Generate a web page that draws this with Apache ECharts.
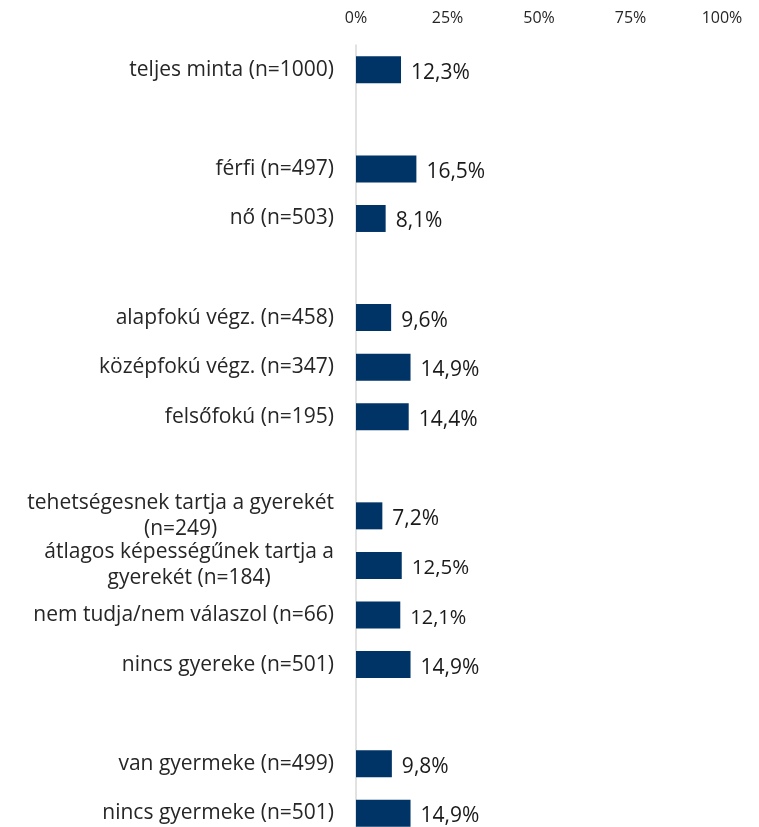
<!DOCTYPE html>
<html>
<head>
<meta charset="utf-8">
<script src="https://cdn.jsdelivr.net/npm/echarts@6/dist/echarts.min.js"></script>
<style>
html, body { margin: 0; padding: 0; background: #fff; }
#chart { width: 759px; height: 827px; }
</style>
</head>
<body>
<div id="chart"></div>
<script>
// empty strings are the gaps between groups
var categories = [
	'teljes minta (n=1000)',
	'',
	'férfi (n=497)',
	'nő (n=503)',
	'',
	'alapfokú végz. (n=458)',
	'középfokú végz. (n=347)',
	'felsőfokú (n=195)',
	'',
	'tehetségesnek tartja a gyerekét\n(n=249)',
	'átlagos képességűnek tartja a\ngyerekét (n=184)',
	'nem tudja/nem válaszol (n=66)',
	'nincs gyereke (n=501)',
	'',
	'van gyermeke (n=499)',
	'nincs gyermeke (n=501)',
]
var values = [12.3, null, 16.5, 8.1, null, 9.6, 14.9, 14.4, null, 7.2, 12.5, 12.1, 14.9, null, 9.8, 14.9]
var tickValues = [0, 25, 50, 75, 100]

// value label sizes differ a bit in the original
var labelSizes = [21, 0, 21, 21, 0, 21, 21, 21, 0, 21, 20.5, 20, 21, 0, 21, 21]

const font = 'Open Sans'
const chart = echarts.init(document.getElementById('chart'))

const seriesData = values.map((v, i) => {
	if (v === null) return '-'
	return { value: v, label: { fontSize: labelSizes[i] } }
})

chart.setOption({
	backgroundColor: '#fff',
	animation: false,
	grid: {
		left: 356,
		right: 37,
		top: 45,
		height: 793,
		outerBoundsMode: 'none',
	},
	xAxis: {
		type: 'value',
		position: 'top',
		min: tickValues[0],
		max: tickValues[tickValues.length - 1],
		interval: 25,
		axisLine: { show: false },
		axisTick: { show: false },
		splitLine: { show: false },
		axisLabel: {
			margin: 19,
			fontFamily: font,
			fontSize: 16,
			color: '#262626',
			formatter: (v) => v + '%',
		},
	},
	yAxis: {
		type: 'category',
		inverse: true,
		data: categories,
		axisTick: { show: false },
		axisLine: { lineStyle: { color: '#d9d9d9', width: 1.5 } },
		axisLabel: {
			margin: 22,
			fontFamily: font,
			fontSize: 21,
			color: '#262626',
			formatter: function (value) {
				return value
					.split('\n')
					.map((line) => '{c|' + line + '}')
					.join('\n')
			},
			rich: {
				c: {
					align: 'center',
					fontFamily: font,
					fontSize: 21,
					lineHeight: 26,
					color: '#262626',
				},
			},
		},
	},
	series: [
		{
			type: 'bar',
			data: seriesData,
			barWidth: 27,
			itemStyle: { color: '#003366' },
			label: {
				show: true,
				position: 'right',
				distance: 10,
				offset: [0, 3],
				fontFamily: font,
				color: '#1a1a1a',
				formatter: (p) => p.value.toFixed(1).replace('.', ',') + '%',
			},
		},
	],
})
</script>
</body>
</html>
